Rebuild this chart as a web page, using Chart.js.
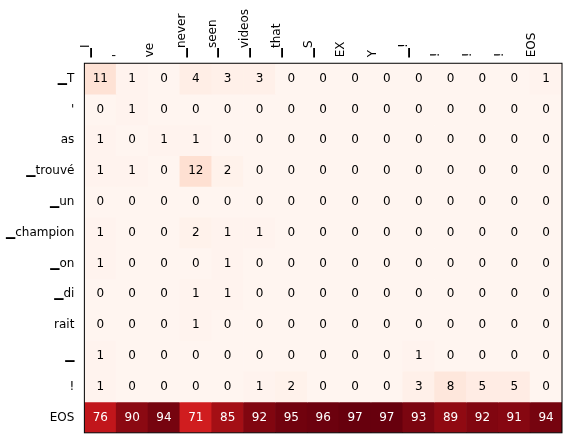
<!DOCTYPE html>
<html>
<head>
<meta charset="utf-8">
<script src="https://cdn.jsdelivr.net/npm/chart.js@4"></script>
<style>
  body { margin: 0; background: #fff; }
  #wrap { width: 566px; height: 446px; }
</style>
</head>
<body>
<div id="wrap"><canvas id="chart"></canvas></div>
<script>
'use strict';

let colLabels = ['▁I', "'", 've', '▁never', '▁seen', '▁videos', '▁that', '▁S', 'EX', 'Y', '▁!', '!', '!', '!', 'EOS'];
let rowLabels = ['▁T', "'", 'as', '▁trouvé', '▁un', '▁champion', '▁on', '▁di', 'rait', '▁', '!', 'EOS'];
let values = [
    [11, 1, 0, 4, 3, 3, 0, 0, 0, 0, 0, 0, 0, 0, 1],
    [0, 1, 0, 0, 0, 0, 0, 0, 0, 0, 0, 0, 0, 0, 0],
    [1, 0, 1, 1, 0, 0, 0, 0, 0, 0, 0, 0, 0, 0, 0],
    [1, 1, 0, 12, 2, 0, 0, 0, 0, 0, 0, 0, 0, 0, 0],
    [0, 0, 0, 0, 0, 0, 0, 0, 0, 0, 0, 0, 0, 0, 0],
    [1, 0, 0, 2, 1, 1, 0, 0, 0, 0, 0, 0, 0, 0, 0],
    [1, 0, 0, 0, 1, 0, 0, 0, 0, 0, 0, 0, 0, 0, 0],
    [0, 0, 0, 1, 1, 0, 0, 0, 0, 0, 0, 0, 0, 0, 0],
    [0, 0, 0, 1, 0, 0, 0, 0, 0, 0, 0, 0, 0, 0, 0],
    [1, 0, 0, 0, 0, 0, 0, 0, 0, 0, 1, 0, 0, 0, 0],
    [1, 0, 0, 0, 0, 1, 2, 0, 0, 0, 3, 8, 5, 5, 0],
    [76, 90, 94, 71, 85, 92, 95, 96, 97, 97, 93, 89, 92, 91, 94]
];
let vmax = 97;

// matplotlib Reds
const reds = [[255,245,240],[254,224,210],[252,187,161],[252,146,114],[251,106,74],[239,59,44],[203,24,29],[165,15,21],[103,0,13]];
function redColor(v) {
    let t = Math.max(0, Math.min(1, v / vmax)) * (reds.length - 1);
    let i = Math.min(Math.floor(t), reds.length - 2);
    let f = t - i;
    let c = reds[i].map((a, k) => Math.round(a + (reds[i + 1][k] - a) * f));
    return `rgb(${c[0]},${c[1]},${c[2]})`;
}

let datasets = rowLabels.map((name, r) => ({
    label: name,
    data: values[r].map(() => [r, r + 1]),
    backgroundColor: values[r].map(v => redColor(v)),
    borderWidth: 0,
    grouped: false,
    barPercentage: 1,
    categoryPercentage: 1
}));

const cellText = {
    id: 'cellText',
    afterDatasetsDraw(chart) {
        const ctx = chart.ctx;
        ctx.save();
        ctx.font = '12px "DejaVu Sans"';
        ctx.textAlign = 'center';
        ctx.textBaseline = 'middle';
        chart.data.datasets.forEach((ds, r) => {
            chart.getDatasetMeta(r).data.forEach((bar, c) => {
                let v = values[r][c];
                ctx.fillStyle = v > 50 ? '#fff' : '#000';
                ctx.fillText(String(v), bar.x, (bar.y + bar.base) / 2);
            });
        });
        const a = chart.chartArea;
        ctx.strokeStyle = '#000';
        ctx.lineWidth = 1;
        ctx.strokeRect(a.left, a.top, a.right - a.left, a.bottom - a.top);
        ctx.restore();
    }
};

Chart.defaults.font.family = '"DejaVu Sans"';
Chart.defaults.font.size = 12;
Chart.defaults.color = '#000';

new Chart(document.getElementById('chart'), {
    type: 'bar',
    data: { labels: colLabels, datasets: datasets },
    options: {
        responsive: true,
        maintainAspectRatio: false,
        animation: false,
        layout: { padding: { left: 0, right: 4, top: 7, bottom: 3 } },
        plugins: { legend: { display: false }, tooltip: { enabled: false } },
        scales: {
            x: {
                position: 'top',
                grid: { display: false, drawTicks: true, tickLength: 4 },
                border: { display: false },
                ticks: { maxRotation: 90, minRotation: 90, autoSkip: false, padding: 2 }
            },
            y: {
                type: 'linear',
                min: 0,
                max: rowLabels.length,
                reverse: true,
                grid: { display: false, tickLength: 4 },
                border: { display: false },
                afterBuildTicks(axis) {
                    axis.ticks = rowLabels.map((_, i) => ({ value: i + 0.5 }));
                },
                ticks: {
                    autoSkip: false,
                    padding: 6,
                    callback: (v) => rowLabels[Math.floor(v)]
                }
            }
        }
    },
    plugins: [cellText]
});
</script>
</body>
</html>
